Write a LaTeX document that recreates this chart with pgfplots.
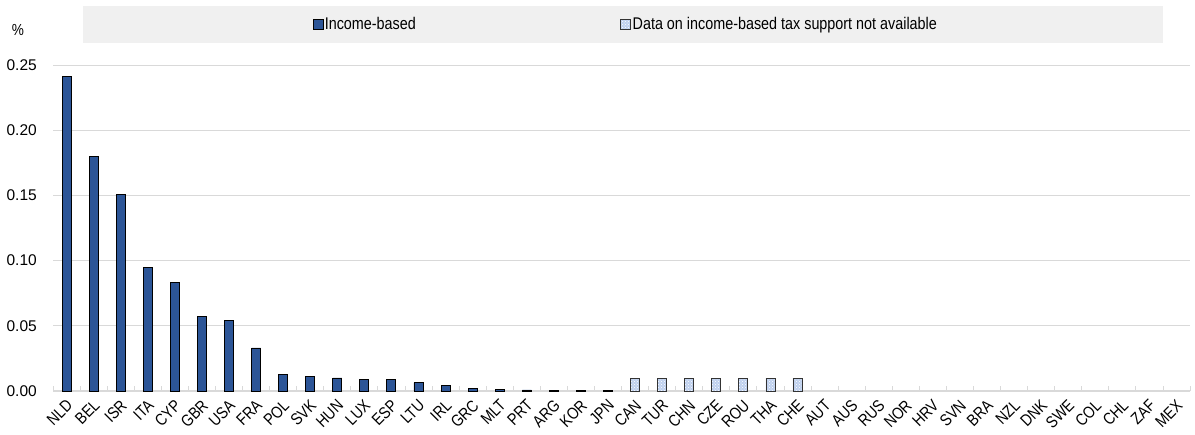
\documentclass[border=0pt]{standalone}
\usepackage{pgfplots}
\pgfplotsset{compat=1.18}
\usepackage{fontspec}
\setmainfont{Liberation Sans}
\newfontfamily\narrow[FakeStretch=0.85]{Liberation Sans}
\usetikzlibrary{patterns}
\definecolor{barblue}{RGB}{44,85,151}
\definecolor{lightbar}{RGB}{190,208,238}
\definecolor{gridgray}{RGB}{217,217,217}
\definecolor{bandgray}{RGB}{240,240,240}
\pgfplotstableread{
x y
0 0.241
1 0.180
2 0.151
3 0.095
4 0.083
5 0.057
6 0.054
7 0.033
8 0.013
9 0.011
10 0.010
11 0.0088
12 0.0086
13 0.0065
14 0.0040
15 0.0022
16 0.0012
17 0.0008
18 0.0002
19 0.0002
20 0.0002
}\incomebased
\pgfplotstableread{
x y
21 0.0098
22 0.0098
23 0.0098
24 0.0098
25 0.0098
26 0.0098
27 0.0098
}\notavail
\begin{document}
\begin{tikzpicture}
\begin{axis}[
  name=ax,
  width=1137pt, height=326pt, scale only axis,
  xmin=-0.5, xmax=41.5, ymin=0, ymax=0.25,
  ybar, bar width=9pt,
  clip=false,
  xtick={0,...,41},
  xticklabels={NLD,BEL,ISR,ITA,CYP,GBR,USA,FRA,POL,SVK,HUN,LUX,ESP,LTU,IRL,GRC,MLT,PRT,ARG,KOR,JPN,CAN,TUR,CHN,CZE,ROU,THA,CHE,AUT,AUS,RUS,NOR,HRV,SVN,BRA,NZL,DNK,SWE,COL,CHL,ZAF,MEX},
  major x tick style={draw=none},
  minor xtick={-0.5,0.5,...,41.5},
  minor x tick style={gridgray, line width=0.8pt},
  minor tick length=5pt,
  tick align=inside,
  x tick label style={font=\narrow\fontsize{16.5}{18}\selectfont, inner sep=0pt, anchor=north east, xshift=-1pt, yshift=-7.5pt, rotate=45},
  ytick={0,0.05,...,0.25},
  y tick label style={font=\fontsize{15.5}{17}\selectfont, inner sep=0pt, xshift=-16pt, anchor=east, /pgf/number format/.cd, fixed, fixed zerofill, precision=2, assume math mode=true},
  ytick style={draw=none},
  ymajorgrids, grid style={gridgray, line width=0.9pt},
  axis x line*=bottom,
  axis y line*=left,
  y axis line style={draw=none},
  x axis line style={gridgray, line width=1.2pt, -},
  legend columns=2,
  legend cell align=left,
  legend style={at={(axis description cs:0.5035,1.124)}, anchor=center, draw=none, fill=none,
    font=\narrow\fontsize{16.9}{18}\selectfont,
    nodes={inner sep=1.5pt},
    /tikz/every even column/.append style={column sep=203pt}},
  legend image code/.code={\draw[#1, line width=0.8pt] (0pt,-5pt) rectangle (10pt,5pt);},
]
\fill[bandgray] (axis description cs:0.0264,1.0675) rectangle (axis description cs:0.9763,1.181);
\node[anchor=center, font=\narrow\fontsize{16}{18}\selectfont] at (axis description cs:-0.0308,1.108) {\%};
\addplot[bar shift=0pt, fill=barblue, draw=black, line width=0.8pt] table[x=x,y=y] {\incomebased};
\addlegendentry{Income-based}
\addplot[bar shift=0pt, fill=lightbar, draw=black!80, line width=0.8pt, postaction={pattern=crosshatch dots, pattern color=white}] table[x=x,y=y] {\notavail};
\addlegendentry{Data on income-based tax support not available}
\end{axis}
\pgfresetboundingbox
\useasboundingbox ([xshift=-53pt,yshift=-43pt]ax.south west) rectangle ([xshift=5pt,yshift=65pt]ax.north east);
\end{tikzpicture}
\end{document}
